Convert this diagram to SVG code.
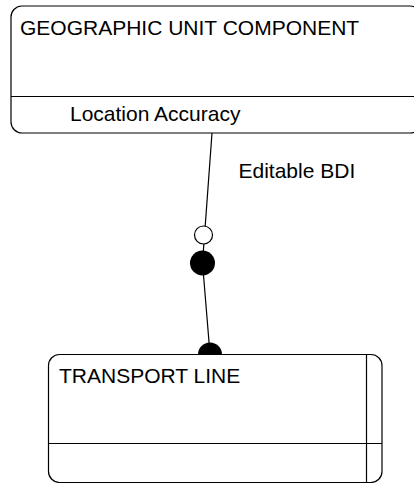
<svg xmlns="http://www.w3.org/2000/svg" width="414" height="483" viewBox="0 0 414 483">
<style>
.box{fill:#fff;stroke:#000;stroke-width:1.2}
.ln{stroke:#000;stroke-width:1.2;fill:none}
text{font-family:"Liberation Sans",Arial,sans-serif;font-size:21px;fill:#000}
</style>
<rect width="414" height="483" fill="#fff"/>
<g id="geographic-unit-component">
<rect class="box" x="11" y="6" width="410" height="127" rx="11"/>
<line class="ln" x1="11" y1="96.5" x2="414" y2="96.5"/>
<text x="20" y="35">GEOGRAPHIC UNIT COMPONENT</text>
<text x="70" y="120.5">Location Accuracy</text>
</g>
<g id="transport-line">
<rect class="box" x="48.5" y="354.5" width="333.5" height="128" rx="11"/>
<line class="ln" x1="48.5" y1="443.5" x2="382" y2="443.5"/>
<line class="ln" x1="366.5" y1="354.5" x2="366.5" y2="482.5"/>
<text x="59" y="383">TRANSPORT LINE</text>
</g>
<g id="connectors">
<polyline class="ln" points="212,133 202.5,263 210,354"/>
<circle cx="203.5" cy="235" r="9" fill="#fff" stroke="#000" stroke-width="1.2"/>
<circle cx="202.5" cy="263" r="12.5" fill="#000"/>
<path d="M198,354.5 A12,12 0 0 1 222,354.5 Z" fill="#000"/>
<text x="238.5" y="178">Editable BDI</text>
</g>
</svg>
